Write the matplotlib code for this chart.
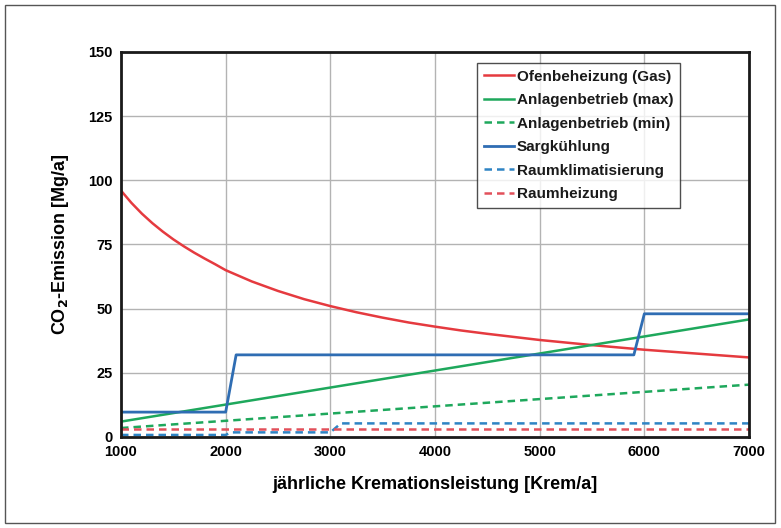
import matplotlib
matplotlib.use("Agg")
import matplotlib.pyplot as plt
from matplotlib.patches import Rectangle

plt.rcParams['font.family'] = ['Liberation Sans', 'DejaVu Sans']

# Data
x_ofen = [1000, 1100, 1200, 1300, 1400, 1500, 1600, 1700, 1800, 1900, 2000,
          2250, 2500, 2750, 3000, 3250, 3500, 3750, 4000, 4250, 4500, 4750,
          5000, 5500, 6000, 6500, 7000]
y_ofen = [96.0, 91.2, 87.0, 83.3, 80.0, 77.0, 74.3, 71.8, 69.5, 67.3, 65.0,
          60.6, 56.9, 53.7, 51.0, 48.6, 46.5, 44.6, 43.0, 41.5, 40.2, 39.0,
          37.8, 35.8, 34.0, 32.5, 31.0]

x_anl_max = [1000, 7000]
y_anl_max = [6.0, 45.8]

x_anl_min = [1000, 7000]
y_anl_min = [3.5, 20.4]

x_sarg = [1000, 2000, 2100, 5900, 6000, 7000]
y_sarg = [9.7, 9.7, 32.0, 32.0, 48.0, 48.0]

x_klima = [1000, 2000, 2050, 3000, 3100, 7000]
y_klima = [0.8, 0.8, 1.8, 1.8, 5.3, 5.3]

x_heiz = [1000, 7000]
y_heiz = [3.0, 3.0]

labels = ["Ofenbeheizung (Gas)", "Anlagenbetrieb (max)", "Anlagenbetrieb (min)",
          "Sargkühlung", "Raumklimatisierung", "Raumheizung"]
x_ticks = [1000, 2000, 3000, 4000, 5000, 6000, 7000]
y_ticks = [0, 25, 50, 75, 100, 125, 150]

fig = plt.figure(figsize=(7.81, 5.28), dpi=100)
fig.patches.append(Rectangle((5/781, 5/528), 770/781, 518/528, transform=fig.transFigure,
                             fill=False, edgecolor='#555555', linewidth=1.0))
ax = fig.add_axes([121/781, 1-437/528, 628/781, 385/528])

red = '#e53a3f'
green = '#1ea85c'
blue = '#2f6db3'
blue_d = '#2f84c4'
red_d = '#e2505a'

ax.plot(x_ofen, y_ofen, color=red, lw=1.8, label=labels[0])
ax.plot(x_anl_max, y_anl_max, color=green, lw=1.8, label=labels[1])
ax.plot(x_anl_min, y_anl_min, color=green, lw=1.8, ls=(0, (3, 2)), label=labels[2])
ax.plot(x_sarg, y_sarg, color=blue, lw=2.0, label=labels[3])
ax.plot(x_klima, y_klima, color=blue_d, lw=1.8, ls=(0, (3, 2)), label=labels[4])
ax.plot(x_heiz, y_heiz, color=red_d, lw=1.8, ls=(0, (3, 2)), label=labels[5])

ax.set_xlim(1000, 7000)
ax.set_ylim(0, 150)
ax.set_xticks(x_ticks)
ax.set_yticks(y_ticks)
ax.tick_params(length=0, labelsize=10.5, pad=6)
for t in ax.get_xticklabels() + ax.get_yticklabels():
    t.set_fontweight('bold')
ax.grid(True, color='#b3b3b3', lw=1.0)
ax.set_axisbelow(True)
for s in ax.spines.values():
    s.set_linewidth(2.0)
    s.set_color('#1a1a1a')

ax.set_xlabel("jährliche Kremationsleistung [Krem/a]", fontsize=13, fontweight='bold', labelpad=12)
ax.set_ylabel("CO$_\\mathbf{2}$-Emission [Mg/a]", fontsize=13, fontweight='bold', labelpad=12)

leg = ax.legend(loc='upper right', bbox_to_anchor=(0.89, 0.972), fontsize=11,
                frameon=True, fancybox=False, edgecolor='#222222', handlelength=2.0,
                handletextpad=0.15, borderpad=0.45, labelspacing=0.62, borderaxespad=0)
leg.get_frame().set_linewidth(1.0)
for t in leg.get_texts():
    t.set_fontweight('bold')
    t.set_color('#1a1a1a')

fig.savefig("out.png", dpi=100)
